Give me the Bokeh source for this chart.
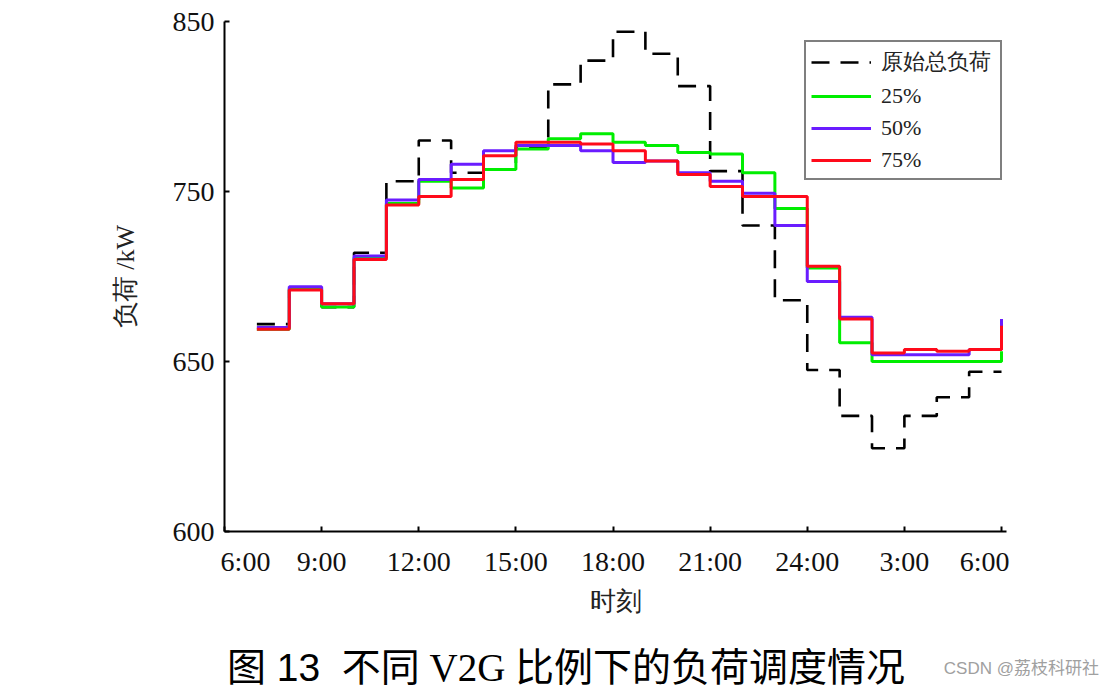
from bokeh.plotting import figure
from bokeh.models import FixedTicker, Range1d, Legend, LegendItem, Div
from bokeh.layouts import column
from bokeh.embed import file_html
from bokeh.resources import INLINE

# hour offset from 6:00 (each value holds for one hour, stairs style)
hours = list(range(1, 25))

original = [672, 693, 682, 714, 756, 780, 761, 763, 776, 813, 827, 844,
            831, 812, 762, 730, 686, 645, 618, 599, 618, 629, 644, 644]
v2g_25 = [669, 693, 682, 711, 743, 756, 752, 763, 775, 781, 784, 779,
          777, 773, 772, 761, 740, 705, 661, 650, 650, 650, 650, 656]
v2g_50 = [670, 694, 684, 712, 745, 757, 766, 774, 777, 777, 774, 767,
          768, 761, 756, 749, 730, 697, 676, 654, 654, 654, 657, 675]
v2g_75 = [669, 692, 684, 710, 742, 747, 757, 771, 779, 779, 778, 774,
          768, 760, 753, 747, 747, 706, 675, 655, 657, 656, 657, 671]

series_names = ["原始总负荷", "25%", "50%", "75%"]

x_ticks = [0, 3, 6, 9, 12, 15, 18, 21, 24]
x_tick_labels = ["6:00", "9:00", "12:00", "15:00", "18:00", "21:00", "24:00", "3:00", "6:00"]
y_ticks = [550, 650, 750, 850]
y_tick_labels = ["600", "650", "750", "850"]

caption_head = "图 13"
caption_body = "不同 V2G 比例下的负荷调度情况"
watermark = "CSDN @荔枝科研社"

SERIF = "Liberation Serif"

p = figure(frame_width=782, frame_height=510,
           x_range=Range1d(0, 24.154), y_range=Range1d(550, 850),
           output_backend="svg", toolbar_location=None,
           min_border_left=224, min_border_right=94,
           min_border_top=21, min_border_bottom=95)

p.background_fill_color = "white"
p.border_fill_color = "white"
p.outline_line_color = None
p.grid.visible = False

r0 = p.step(hours, original, mode="after", line_color="black", line_width=2.6, line_dash="18 11")
r1 = p.step(hours, v2g_25, mode="after", line_color="#00ee00", line_width=3)
r2 = p.step(hours, v2g_50, mode="after", line_color="#6a1cff", line_width=3)
r3 = p.step(hours, v2g_75, mode="after", line_color="#ff0a1a", line_width=3)

# axes
for ax in (p.xaxis, p.yaxis):
    ax.axis_line_width = 2
    ax.axis_line_color = "black"
    ax.major_tick_in = 5
    ax.major_tick_out = 0
    ax.major_tick_line_width = 2
    ax.minor_tick_line_color = None
    ax.major_label_text_font = SERIF
    ax.major_label_text_font_size = "28px"
    ax.major_label_text_color = "#111111"
    ax.axis_label_text_font = SERIF
    ax.axis_label_text_font_size = "26px"
    ax.axis_label_text_font_style = "normal"
    ax.axis_label_text_color = "#222222"

p.xaxis.ticker = FixedTicker(ticks=x_ticks)
overrides = {t: lab for t, lab in zip(x_ticks, x_tick_labels)}
# the end labels sit shifted away from the corners in the original
overrides[x_ticks[0]] = "\u2002\u2002\u2002" + x_tick_labels[0]
overrides[x_ticks[-1]] = x_tick_labels[-1] + "\u2002\u2002\u2009"
p.xaxis.major_label_overrides = overrides
p.xaxis.major_label_standoff = 14
p.xaxis.axis_label = "时刻"
p.xaxis.axis_label_standoff = 7

p.yaxis.ticker = FixedTicker(ticks=y_ticks)
p.yaxis.major_label_overrides = {t: lab for t, lab in zip(y_ticks, y_tick_labels)}
p.yaxis.major_label_standoff = 10
p.yaxis.axis_label = "负荷 /kW"
p.yaxis.axis_label_standoff = 30

# legend
legend = Legend(items=[LegendItem(label=series_names[0], renderers=[r0]),
                       LegendItem(label=series_names[1], renderers=[r1]),
                       LegendItem(label=series_names[2], renderers=[r2]),
                       LegendItem(label=series_names[3], renderers=[r3])],
                location=(580, 351))
legend.border_line_color = "black"
legend.border_line_width = 2
legend.background_fill_color = "white"
legend.background_fill_alpha = 1
legend.label_text_font = SERIF
legend.label_text_font_size = "22px"
legend.label_text_color = "#222222"
legend.glyph_width = 60
legend.glyph_height = 24
legend.label_height = 24
legend.label_width = 114
legend.label_standoff = 10
legend.spacing = 6
legend.padding = 5
legend.margin = 0
p.add_layout(legend, "center")

# caption and watermark under the chart
caption_html = (
    '<div style="position:relative;width:1100px;height:62px;">'
    '<div style="position:absolute;left:61px;top:15px;width:1000px;text-align:center;'
    'font-size:39px;line-height:44px;color:#000;white-space:nowrap;">'
    '<span style="font-family:\'Liberation Sans\',\'Noto Sans CJK SC\';">' + caption_head + '</span>'
    '&nbsp;&nbsp;'
    '<span style="font-family:\'Liberation Serif\',\'Noto Sans CJK SC\';">' + caption_body + '</span>'
    '</div>'
    '<div style="position:absolute;right:6px;top:28px;font-family:\'Liberation Sans\',\'Noto Sans CJK SC\';'
    'font-size:17px;line-height:20px;color:#a0a0a0;white-space:nowrap;">' + watermark + '</div>'
    '</div>'
)
caption = Div(text=caption_html, width=1100, height=62)

open("out.html", "w").write(file_html(column(p, caption), INLINE))
